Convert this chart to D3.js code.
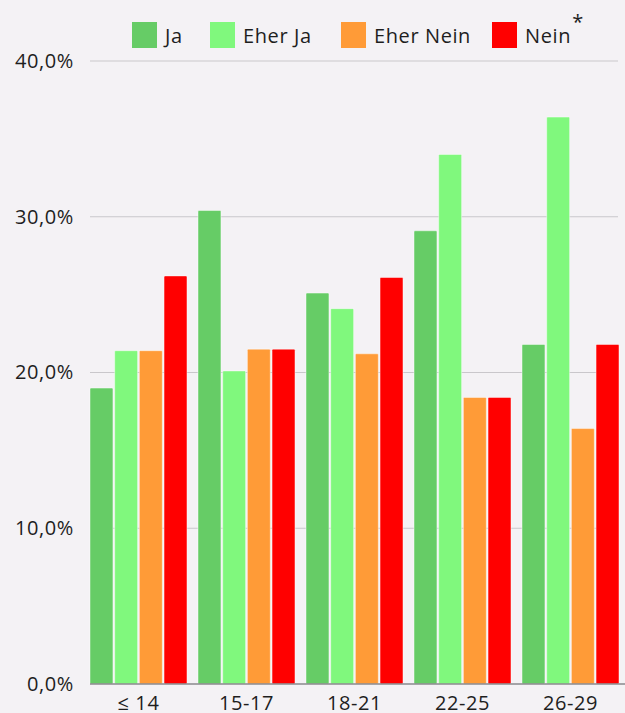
<!DOCTYPE html>
<html>
<head>
<meta charset="utf-8">
<script src="https://cdn.jsdelivr.net/npm/d3@7/dist/d3.min.js"></script>
<style>
  html, body { margin: 0; padding: 0; background: #f4f2f5; }
  svg { display: block; font-family: "Open Sans", "Noto Sans", sans-serif; }
</style>
</head>
<body>
<svg id="chart" width="625" height="713"></svg>
<script>
// Age groups on the x axis
const ageGroups = ["≤ 14", "15-17", "18-21", "22-25", "26-29"];
// Answer categories and their colours
const answers = ["Ja", "Eher Ja", "Eher Nein", "Nein"];
const answerColors = ["#66cc66", "#80f87d", "#ff9b37", "#ff0000"];
// Share of answers per age group (percent)
const jaValues       = [19.0, 30.4, 25.1, 29.1, 21.8];
const eherJaValues   = [21.4, 20.1, 24.1, 34.0, 36.4];
const eherNeinValues = [21.4, 21.5, 21.2, 18.4, 16.4];
const neinValues     = [26.2, 21.5, 26.1, 18.4, 21.8];
// Y axis ticks
const yTicks = [0, 10, 20, 30, 40];

const seriesValues = [jaValues, eherJaValues, eherNeinValues, neinValues];
const rows = ageGroups.map((g, i) => ({
  group: g,
  values: answers.map((a, j) => ({ answer: a, value: seriesValues[j][i], color: answerColors[j] }))
}));

const svg = d3.select("#chart");
const textStyle = sel => sel
  .attr("font-size", 20)
  .attr("letter-spacing", 0.6)
  .attr("fill", "#1e1e1e")
  .attr("font-family", "'Open Sans', sans-serif");

const x0 = d3.scaleBand().domain(ageGroups).range([84.6, 624.4]).paddingInner(0.102).paddingOuter(0.05);
const x1 = d3.scaleBand().domain(answers).range([0, x0.bandwidth()]).paddingInner(0.07);
const y = d3.scaleLinear().domain([0, 40]).range([684, 61]);

const fmt = v => d3.format(".1f")(v).replace(".", ",") + "%";

// Gridlines
svg.append("g")
  .selectAll("line")
  .data(yTicks.filter(t => t > 0))
  .join("line")
  .attr("x1", 90).attr("x2", 618)
  .attr("y1", d => y(d)).attr("y2", d => y(d))
  .attr("stroke", "#c9c7cb").attr("stroke-width", 1.2);

// Y axis labels
const yAxis = svg.append("g")
  .attr("transform", "translate(74,0)")
  .call(d3.axisLeft(y).tickValues(yTicks).tickFormat(fmt).tickSize(0).tickPadding(0));
yAxis.select(".domain").remove();
yAxis.selectAll("text").call(textStyle);

// Bars
const groups = svg.append("g")
  .selectAll("g")
  .data(rows)
  .join("g")
  .attr("transform", d => `translate(${x0(d.group)},0)`);

groups.selectAll("rect")
  .data(d => d.values)
  .join("rect")
  .attr("x", d => x1(d.answer))
  .attr("width", x1.bandwidth())
  .attr("y", d => y(d.value))
  .attr("height", d => y(0) - y(d.value))
  .attr("fill", d => d.color)
  .attr("stroke", "rgba(255,255,255,0.45)")
  .attr("stroke-width", 1)
  .attr("rx", 1);

// Baseline
svg.append("line")
  .attr("x1", 90).attr("x2", 625)
  .attr("y1", y(0)).attr("y2", y(0))
  .attr("stroke", "#8a898c").attr("stroke-width", 1.5);

// X axis labels
const xAxis = svg.append("g")
  .attr("transform", `translate(0,${y(0)})`)
  .call(d3.axisBottom(x0).tickSize(0).tickPadding(12));
xAxis.select(".domain").remove();
xAxis.selectAll("text").call(textStyle).attr("dy", "0.71em");

// Legend
const legendX = [132, 210, 341, 492];
const legend = svg.append("g")
  .selectAll("g")
  .data(answers)
  .join("g")
  .attr("transform", (d, i) => `translate(${legendX[i]},22)`);
legend.append("rect")
  .attr("width", 25).attr("height", 26)
  .attr("fill", (d, i) => answerColors[i]);
legend.append("text")
  .attr("x", 33).attr("y", 14).attr("dy", "0.36em")
  .call(textStyle)
  .text(d => d);

svg.append("text")
  .attr("x", 578).attr("y", 29)
  .attr("text-anchor", "middle")
  .call(textStyle)
  .text("*");
</script>
</body>
</html>
